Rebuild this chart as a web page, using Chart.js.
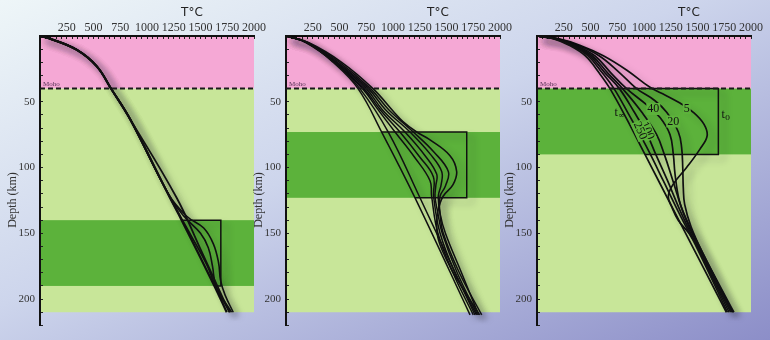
<!DOCTYPE html>
<html>
<head>
<meta charset="utf-8">
<title>Geotherm relaxation</title>
<script src="https://cdn.jsdelivr.net/npm/chart.js@4.4.1/dist/chart.umd.min.js"></script>
<style>
  html, body { margin: 0; padding: 0; }
  body {
    width: 770px;
    height: 340px;
    overflow: hidden;
    position: relative;
    background: linear-gradient(to bottom right, #eef6f8 0%, #cdd5ec 45%, #8c8ec8 100%);
  }
  canvas { position: absolute; top: 0; }
  #panel1 { left: 0; }
  #panel2 { left: 246px; }
  #panel3 { left: 497px; }
</style>
</head>
<body>
<canvas id="panel1" width="270" height="340"></canvas>
<canvas id="panel2" width="270" height="340"></canvas>
<canvas id="panel3" width="270" height="340"></canvas>
<script>
// axis labels
const tempTicks = [250, 500, 750, 1000, 1250, 1500, 1750, 2000];
const depthTicks = [50, 100, 150, 200];

// layers (depth ranges, km)
const mohoDepth = 40;
const crustLayer = [0, 40];
const mantleLayer = [40, 210];
const hotLayer1 = [140, 190];
const hotLayer2 = [73, 123];
const hotLayer3 = [40, 90];

// geotherms as [T (°C), depth (km)]
// panel 1 - deep perturbation
const p1Top = [[0, 0], [93, 2], [343, 10.5], [530, 23], [664, 40], [841, 63]];
const p1Steady = p1Top.concat([[1215, 123], [1324, 140], [1630, 190], [1745, 210]]);
const p1Box = [[1324, 140], [1690, 140], [1690, 190], [1630, 190]];
const p1Early = p1Top.concat([[1200, 120], [1371, 137], [1530, 146], [1620, 158], [1668, 172], [1688, 186], [1730, 197], [1806, 210]]);
const p1Mid = p1Top.concat([[1205, 121], [1345, 137], [1500, 150], [1573, 161], [1612, 175], [1645, 190], [1790, 210]]);
const p1Late = p1Top.concat([[1210, 122], [1400, 150], [1560, 174], [1650, 192], [1775, 210]]);
const p1Cold = p1Top.concat([[1277, 123], [1500, 162], [1769, 210]]);

// panel 2 - mid-lithosphere perturbation
const p2Steady = [[0, 0], [200, 5], [440, 20], [673, 40], [894, 73], [1206, 123], [1720, 212]];
const p2Box = [[894, 73], [1689, 73], [1689, 123], [1206, 123]];
const p2Cold = [[0, 0], [200, 5], [450, 20], [690, 40], [956, 73], [1252, 123], [1766, 212]];
const p2a = [[0, 0], [210, 5], [520, 20], [813, 40], [1000, 57], [1093, 65], [1221, 73], [1346, 79], [1533, 91], [1595, 103], [1561, 113], [1467, 122], [1420, 133], [1408, 143], [1425, 155], [1500, 170], [1600, 185], [1810, 212]];
const p2b = [[0, 0], [205, 5], [500, 20], [790, 40], [960, 56], [1190, 73], [1380, 88], [1517, 103], [1490, 114], [1439, 122], [1440, 135], [1470, 150], [1620, 180], [1829, 212]];
const p2c = [[0, 0], [200, 5], [480, 20], [770, 40], [930, 56], [1159, 73], [1350, 90], [1455, 103], [1450, 113], [1423, 122], [1440, 135], [1490, 150], [1640, 180], [1800, 212]];
const p2d = [[0, 0], [195, 5], [470, 20], [750, 40], [900, 56], [1112, 73], [1300, 91], [1408, 105], [1400, 114], [1393, 122], [1420, 135], [1460, 150], [1600, 180], [1790, 212]];
const p2e = [[0, 0], [190, 5], [460, 20], [730, 40], [880, 56], [1065, 73], [1250, 92], [1377, 107], [1380, 122], [1440, 150], [1580, 180], [1780, 212]];
const p2f = [[0, 0], [185, 5], [450, 20], [715, 40], [860, 56], [1019, 73], [1200, 92], [1346, 110], [1361, 122], [1420, 150], [1560, 180], [1750, 212]];

// panel 3 - shallow perturbation, curves labelled by time
const p3Inf = [[0, 0], [150, 2], [300, 7], [450, 15], [580, 28], [682, 40], [838, 63], [1009, 90], [1294, 135], [1770, 210]];
const p3Box = [[682, 40], [1695, 40], [1695, 90], [1009, 90]];
const p3t250 = [[0, 0], [160, 2], [320, 7], [475, 15], [610, 28], [720, 40], [860, 60], [963, 75], [1060, 90], [1180, 110], [1330, 135], [1500, 162], [1780, 210]];
const p3t100 = [[0, 0], [165, 2], [335, 7], [495, 15], [635, 28], [770, 40], [910, 58], [1030, 75], [1110, 90], [1220, 110], [1350, 135], [1510, 162], [1795, 210]];
const p3t60 = [[0, 0], [170, 2], [345, 7], [515, 15], [660, 28], [800, 40], [980, 58], [1118, 75], [1190, 90], [1270, 110], [1370, 135], [1520, 162], [1810, 210]];
const p3t40 = [[0, 0], [175, 2], [360, 7], [540, 15], [690, 28], [837, 40], [1020, 52], [1150, 62], [1243, 75], [1274, 90], [1290, 105], [1330, 125], [1400, 140], [1530, 162], [1820, 210]];
const p3t20 = [[0, 0], [185, 2], [380, 7], [580, 15], [760, 27], [931, 40], [1100, 49], [1212, 58], [1321, 73], [1352, 85], [1362, 100], [1367, 115], [1380, 128], [1440, 145], [1550, 165], [1840, 210]];
const p3t5 = [[0, 0], [195, 2], [400, 7], [620, 15], [840, 26], [1056, 39], [1200, 45], [1336, 51], [1461, 58], [1560, 67], [1590, 76], [1523, 86], [1398, 100], [1270, 113], [1227, 122], [1260, 130], [1320, 140], [1420, 150], [1560, 168], [1830, 210]];

// time labels on panel 3 curves: text, T, depth, angle
const p3Notes = [
  ['5', 1399, 55, 0],
  ['20', 1274, 65, 0],
  ['40', 1087, 55.5, 0],
  ['100', 1031, 72, 1.15],
  ['250', 963, 72, 1.15]
];

const PINK = '#f5a8d5';
const LIGHT_GREEN = '#c8e699';
const DARK_GREEN = '#5cb23b';

function curve(arr, width) {
  return {
    data: arr.map(p => ({ x: p[0], y: p[1] })),
    showLine: true,
    borderColor: '#111',
    borderWidth: width || 1.5,
    pointRadius: 0,
    tension: 0.4,
    shadow: true,
  };
}

function box(arr) {
  const ds = curve(arr, 1.5);
  ds.tension = 0;
  return ds;
}

function moho() {
  return {
    data: [{ x: 0, y: mohoDepth }, { x: 2000, y: mohoDepth }],
    showLine: true,
    borderColor: '#1a1a1a',
    borderWidth: 2,
    borderDash: [5, 3],
    pointRadius: 0,
    shadow: false,
  };
}

function subT(ctx, x, y, sub) {
  ctx.font = '12px "Liberation Serif"';
  ctx.textAlign = 'left';
  ctx.fillText('t', x, y);
  ctx.font = '8px "DejaVu Serif"';
  ctx.fillText(sub, x + 3.5, y + 3);
}

function makePanel(id, hotLayer, datasets, notes) {
  const bands = [
    [crustLayer, PINK],
    [mantleLayer, LIGHT_GREEN],
    [hotLayer, DARK_GREEN],
  ];

  const panelPlugin = {
    id: 'panelDecor',
    beforeDraw(chart) {
      const { ctx, scales: { x, y } } = chart;
      const left = x.getPixelForValue(0);
      const right = x.getPixelForValue(2000);
      ctx.save();
      bands.forEach(b => {
        const top = y.getPixelForValue(b[0][0]);
        const bottom = y.getPixelForValue(b[0][1]);
        ctx.fillStyle = b[1];
        ctx.fillRect(left, top, right - left, bottom - top);
      });
      ctx.restore();
    },
    beforeDatasetDraw(chart, args) {
      if (!chart.data.datasets[args.index].shadow) return;
      const ctx = chart.ctx;
      ctx.save();
      ctx.shadowColor = 'rgba(20, 20, 40, 0.28)';
      ctx.shadowBlur = 7;
      ctx.shadowOffsetX = 6;
      ctx.shadowOffsetY = 5;
    },
    afterDatasetDraw(chart, args) {
      if (!chart.data.datasets[args.index].shadow) return;
      chart.ctx.restore();
    },
    afterDatasetsDraw(chart) {
      if (!notes) return;
      const { ctx, scales: { x, y } } = chart;
      ctx.save();
      ctx.textBaseline = 'middle';
      notes.forEach(n => {
        ctx.save();
        ctx.translate(x.getPixelForValue(n[1]), y.getPixelForValue(n[2]));
        ctx.rotate(n[3]);
        ctx.font = '12px "Liberation Serif"';
        const w = ctx.measureText(n[0]).width;
        ctx.fillStyle = DARK_GREEN;
        ctx.fillRect(-w / 2 - 1, -6, w + 2, 12);
        ctx.fillStyle = '#111';
        ctx.textAlign = 'center';
        ctx.fillText(n[0], 0, 0);
        ctx.restore();
      });
      // steady state and initial state
      ctx.fillStyle = '#111';
      subT(ctx, x.getPixelForValue(725), y.getPixelForValue(58.5), '\u221e');
      subT(ctx, x.getPixelForValue(1725), y.getPixelForValue(60), '0');
      ctx.restore();
    },
    afterDraw(chart) {
      const { ctx, chartArea: a, scales: { y } } = chart;
      ctx.save();
      ctx.fillStyle = '#222';
      ctx.font = '12px "DejaVu Sans"';
      ctx.textAlign = 'center';
      ctx.textBaseline = 'middle';
      ctx.fillText('T\u00b0C', a.left + 0.71 * (a.right - a.left), 13);

      ctx.save();
      ctx.translate(a.left - 27, 200);
      ctx.rotate(-Math.PI / 2);
      ctx.font = '12px "Liberation Serif"';
      ctx.fillStyle = '#333';
      ctx.fillText('Depth (km)', 0, 0);
      ctx.restore();

      ctx.font = '7px "Liberation Serif"';
      ctx.fillStyle = '#5a3358';
      ctx.textAlign = 'left';
      ctx.textBaseline = 'alphabetic';
      ctx.fillText('Moho', a.left + 3, y.getPixelForValue(mohoDepth) - 3);
      ctx.restore();
    },
  };

  return new Chart(document.getElementById(id).getContext('2d'), {
    type: 'scatter',
    data: { datasets: [moho()].concat(datasets) },
    options: {
      responsive: false,
      animation: false,
      layout: { padding: { left: 0, right: 16, top: 0, bottom: 11 } },
      plugins: { legend: { display: false }, tooltip: { enabled: false } },
      scales: {
        x: {
          type: 'linear',
          position: 'top',
          min: 0,
          max: 2000,
          afterFit: s => { s.height = 36; },
          border: { display: true, color: '#111', width: 2 },
          grid: { drawOnChartArea: false, drawTicks: true, tickLength: -3, color: '#222' },
          ticks: {
            stepSize: 50,
            autoSkip: false,
            maxRotation: 0,
            minRotation: 0,
            padding: 4,
            color: '#333',
            font: { family: 'Liberation Serif', size: 12 },
            callback: v => (tempTicks.includes(v) ? String(v) : ''),
          },
        },
        y: {
          type: 'linear',
          reverse: true,
          min: 0,
          max: 220,
          afterFit: s => { s.width = 40; },
          border: { display: true, color: '#111', width: 2 },
          grid: { drawOnChartArea: false, drawTicks: true, tickLength: -3, color: '#222' },
          ticks: {
            stepSize: 10,
            autoSkip: false,
            padding: 8,
            color: '#333',
            font: { family: 'Liberation Serif', size: 11 },
            callback: v => (depthTicks.includes(v) ? String(v) : ''),
          },
        },
      },
    },
    plugins: [panelPlugin],
  });
}

const chart1 = makePanel('panel1', hotLayer1, [
  box(p1Box),
  curve(p1Cold, 1.8),
  curve(p1Late, 1.8),
  curve(p1Mid, 1.6),
  curve(p1Early, 1.6),
  curve(p1Steady, 2.2),
]);

const chart2 = makePanel('panel2', hotLayer2, [
  box(p2Box),
  curve(p2Steady, 1.5),
  curve(p2Cold, 1.5),
  curve(p2a, 1.6),
  curve(p2b, 1.5),
  curve(p2c, 1.5),
  curve(p2d, 1.5),
  curve(p2e, 1.5),
  curve(p2f, 1.5),
]);

const chart3 = makePanel('panel3', hotLayer3, [
  box(p3Box),
  curve(p3Inf, 1.7),
  curve(p3t250, 1.7),
  curve(p3t100, 1.7),
  curve(p3t60, 1.7),
  curve(p3t40, 1.7),
  curve(p3t20, 1.7),
  curve(p3t5, 1.7),
], p3Notes);
</script>
</body>
</html>
